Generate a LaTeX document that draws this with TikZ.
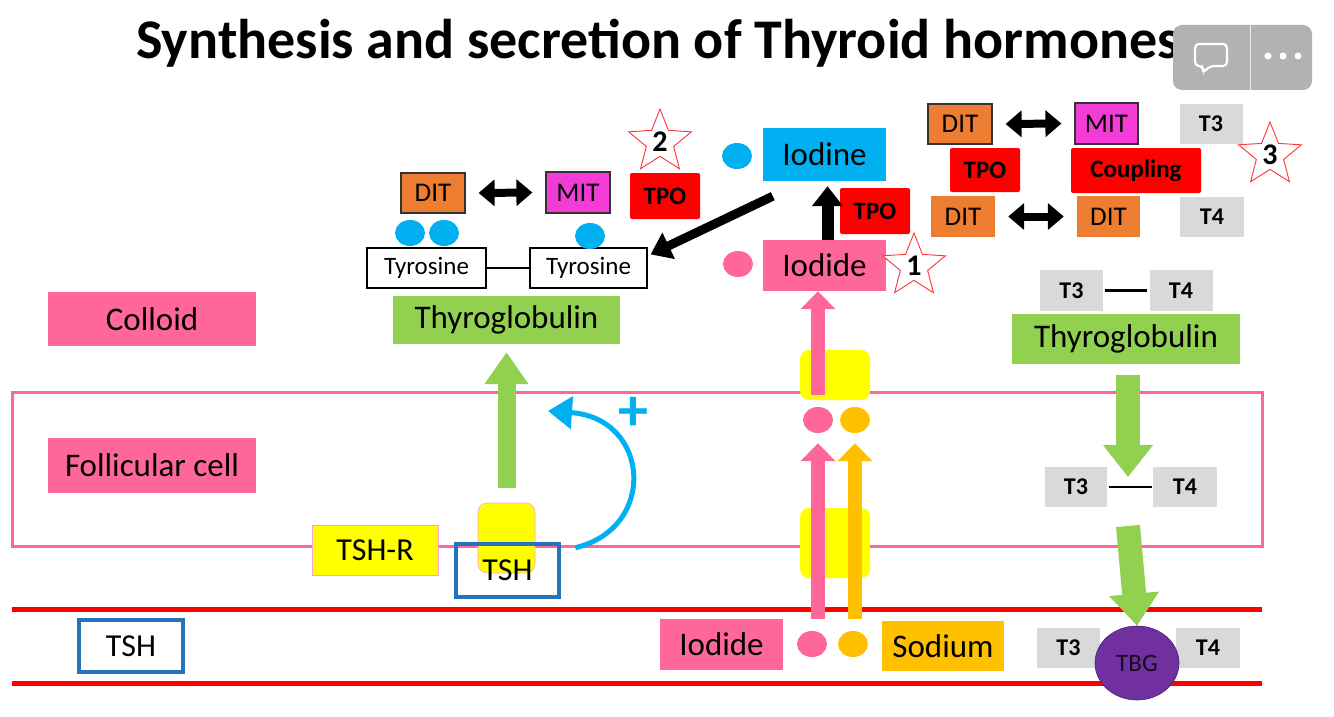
\documentclass[tikz,border=0pt]{standalone}
\usepackage{fontspec}
\setmainfont{Carlito}
\usetikzlibrary{arrows.meta,shapes.geometric}
\newcommand\fsz[1]{\fontsize{#1}{#1}\selectfont}
\definecolor{cpink}{HTML}{FF6699}
\definecolor{corange}{HTML}{ED7D31}
\definecolor{cmagenta}{HTML}{F33CD6}
\definecolor{cred}{HTML}{FF0000}
\definecolor{cblue}{HTML}{00B0F0}
\definecolor{cgreen}{HTML}{92D050}
\definecolor{cyellow}{HTML}{FFFF00}
\definecolor{cgold}{HTML}{FFC000}
\definecolor{cgray}{HTML}{D9D9D9}
\definecolor{cpurple}{HTML}{7030A0}
\definecolor{ctsh}{HTML}{2473BD}
\begin{document}
\begin{tikzpicture}[x=1pt, y=-1pt,
    box/.style={rectangle, inner sep=0pt, align=center},
    sz/.style 2 args={minimum width=#1, minimum height=#2},
    bigtext/.style={box, font=\fsz{33}},
    pinkbox/.style={bigtext, fill=cpink},
    greenbox/.style={bigtext, fill=cgreen},
    tyrbox/.style={box, draw=black, line width=1.2pt, font=\fsz{25}},
    ditbox/.style={box, fill=corange, font=\fsz{27}},
    mitbox/.style={box, fill=cmagenta, draw=black!80, line width=1.2pt, font=\fsz{27}},
    tpobox/.style={box, fill=cred, font=\bfseries\fsz{25}, rounded corners=2pt},
    tbox/.style={box, fill=cgray, font=\bfseries\fsz{24}, sz={63}{40}},
    tshbox/.style={box, draw=ctsh, line width=4.5pt, font=\fsz{32}},
    dot/.style={ellipse, inner sep=0pt, minimum width=30, minimum height=26},
    transporter/.style={box, fill=cyellow, rounded corners=9pt},
    numstar/.style={star, star points=5, star point ratio=2.3, minimum size=66,
        inner sep=0pt, draw=cred!80, line width=0.9pt, fill=white},
    swap/.style={line width=8pt, {Triangle[length=16pt,width=26pt]}-{Triangle[length=16pt,width=26pt]}},
    greenup/.style={draw=cgreen, line width=18pt, -{Triangle[length=32pt,width=42pt]}},
    greendown/.style={draw=cgreen, line width=24pt, -{Triangle[length=32pt,width=48pt]}},
    pinkup/.style={draw=cpink, line width=14pt, -{Triangle[length=18pt,width=34pt]}},
    goldup/.style={draw=cgold, line width=14pt, -{Triangle[length=18pt,width=34pt]}},
    blackup/.style={draw=black, line width=12pt, -{Triangle[length=20pt,width=30pt]}},
    blackdiag/.style={draw=black, line width=9pt, -{Triangle[length=20pt,width=28pt]}}]
\useasboundingbox (0,0) rectangle (1334,717);

% Title
\node[font=\bfseries\fsz{56}] (title) at (658,43) {Synthesis and secretion of Thyroid hormones};

% Membranes
\draw[cpink, line width=3pt] (12,392) rectangle (1262,546);
\draw[cred, line width=5pt] (12,609) -- (1262,609);
\draw[cred, line width=5pt] (12,683) -- (1262,683);

% Compartments
\node[pinkbox, sz={208}{54}] (colloid) at (152,319) {Colloid};
\node[pinkbox, sz={208}{55}] (follicular) at (152,465.5) {Follicular cell};
\node[tshbox, sz={104}{52}] (tshL) at (131,646) {TSH};

% TSH receptor
\node[box, fill=cyellow, draw=cpink!60, line width=0.6pt, sz={126}{50}, font=\fsz{32}] (tshR) at (375,550) {TSH-R};
\node[transporter, draw=cpink!60, line width=0.6pt, sz={57}{70}] (rec) at (506.5,538) {};
\node[tshbox, sz={103}{53}] (tshB) at (507.5,570.5) {\raisebox{-6pt}{TSH}};
\coordinate (plusTip) at (548,411);
\draw[cblue, line width=5pt, -{Triangle[length=24pt,width=32pt]}]
    ([shift={(14pt,-6pt)}]tshB.north east) .. controls (658,528) and (650,418) .. (plusTip);
\node[text=cblue, font=\bfseries\fsz{60}] (plus) at (633,414) {+};

% Thyroglobulin (left)
\node[greenbox, sz={227}{48}] (tg) at (506.5,320) {Thyroglobulin};
\draw[greenup] ([yshift=15pt]rec.north) -- ([yshift=-8pt]tg.south);
\node[tyrbox, sz={119}{40}] (tyr1) at (426.5,268) {Tyrosine};
\node[tyrbox, sz={117}{40}] (tyr2) at (588.5,268) {Tyrosine};
\draw[line width=2pt] (tyr1.east) -- (tyr2.west);
\node[dot, fill=cblue] (b1) at (410,233) {};
\node[dot, fill=cblue] (b2) at (444,233) {};
\node[dot, fill=cblue] (b3) at (590,236) {};
\node[ditbox, draw=black!80, line width=1.2pt, sz={64}{40}] (ditL) at (433,193) {DIT};
\node[mitbox, sz={64}{41}] (mitL) at (578,192.5) {MIT};
\draw[swap] ([xshift=13pt]ditL.east) -- ([xshift=-13pt]mitL.west);
\node[tpobox, sz={70}{46}] (tpoL) at (665,196) {TPO};
\node[numstar] (star2) at (660,142) {};
\node[font=\bfseries\fsz{30}] at (star2.center) {2};

% Iodine / Iodide
\node[bigtext, fill=cblue, sz={123}{53}] (iodine) at (824.5,154.5) {Iodine};
\node[dot, fill=cblue] (bI) at (737,156) {};
\node[pinkbox, sz={123}{51}] (iodide) at (824.5,265.5) {Iodide};
\node[dot, fill=cpink] (pT) at (738,264) {};
\node[tpobox, sz={70}{46}] (tpoM) at (875,211) {TPO};
\draw[blackup] ([xshift=3pt]iodide.north) -- ([xshift=3pt,yshift=-5pt]iodine.south);
\draw[blackdiag] ([shift={(10pt,-15pt)}]iodine.south west) -- ([shift={(3pt,-7pt)}]tyr2.north east);
\node[numstar] (star1) at (914,266) {};
\node[font=\bfseries\fsz{30}] at (star1.center) {1};

% Sodium iodide symporter
\node[transporter, sz={70}{50}] (nisTop) at (835,375) {};
\node[transporter, sz={70}{70}] (nisBot) at (835,543) {};
\node[dot, fill=cpink] (pI) at (818,420) {};
\node[dot, fill=cgold] (oI) at (855,420) {};
\draw[pinkup] ([yshift=5pt]pI.north |- nisTop.south) -- (pI.north |- iodide.south);
\node[pinkbox, sz={123}{51}] (iodideB) at (721.5,644.5) {Iodide};
\node[dot, fill=cpink] (pB) at (812,644) {};
\node[dot, fill=cgold] (oB) at (853,644) {};
\node[bigtext, fill=cgold, sz={122}{50}] (sodium) at (943,646) {Sodium};
\draw[pinkup] (pI.south |- iodideB.north) -- ([yshift=-10pt]pI.south);
\draw[goldup] (oI.south |- iodideB.north) -- ([yshift=-10pt]oI.south);

% Coupling
\node[ditbox, draw=black!80, line width=1.2pt, sz={64}{40}] (ditR1) at (960,124) {DIT};
\node[mitbox, sz={63}{41}] (mitR) at (1106.5,123.5) {MIT};
\draw[swap] ([xshift=13pt]ditR1.east) -- ([xshift=-13pt]mitR.west);
\node[tbox] (t3a) at (1211,124) {T3};
\node[tpobox, sz={70}{44}] (tpoR) at (985,170) {TPO};
\node[tpobox, sz={130}{45}] (coupling) at (1136,170.5) {Coupling};
\node[numstar] (star3) at (1270,155) {};
\node[font=\bfseries\fsz{30}] at (star3.center) {3};
\node[ditbox, sz={64}{41}] (ditR2) at (963,216.5) {DIT};
\node[ditbox, sz={63}{41}] (ditR3) at (1108.5,216.5) {DIT};
\draw[swap] ([xshift=13pt]ditR2.east) -- ([xshift=-13pt]ditR3.west);
\node[tbox, minimum width=64] (t4a) at (1212,216.5) {T4};

% Secretion
\node[tbox, minimum height=41] (t3b) at (1071.5,290.5) {T3};
\node[tbox, minimum height=41] (t4b) at (1181,290.5) {T4};
\draw[line width=2.5pt] (t3b.east) ++(2pt,0) -- ([xshift=-2pt]t4b.west);
\node[greenbox, sz={228}{50}] (tgR) at (1126,339) {Thyroglobulin};
\node[tbox, minimum width=62] (t3c) at (1076,487) {T3};
\node[tbox, minimum width=64] (t4c) at (1185,487) {T4};
\draw[line width=2.5pt] ([xshift=2pt]t3c.east) -- ([xshift=-1pt]t4c.west);
\coordinate (midR) at (1128,487);
\draw[greendown] ([yshift=-11pt]tgR.south -| midR) -- ([yshift=10pt]midR);
\node[tbox] (t3d) at (1068.5,648) {T3};
\node[tbox, minimum width=64] (t4d) at (1208,648) {T4};
\node[ellipse, inner sep=0pt, fill=cpurple, draw=cpurple!70!black, line width=0.6pt,
      sz={84}{74}, font=\fsz{25}, text=black!80!cpurple] (tbg) at (1137,663) {TBG};
\draw[greendown] ([yshift=-39pt]midR) -- (tbg.north);

% Viewer buttons
\fill[black!30, rounded corners=9pt] (1173,25) rectangle (1312,90);
\draw[white!75!black!30, line width=1pt] (1250,25) -- (1250,90);
\draw[white, line width=2.2pt, rounded corners=4pt]
    (1195,44) -- (1227,44) -- (1227,66) -- (1210,66) -- (1203,73) -- (1203,66) -- (1195,66) -- cycle;
\foreach \dx in {1268,1283,1298}
    \fill[white] (\dx,56) circle (3.5pt);
\end{tikzpicture}
\end{document}
